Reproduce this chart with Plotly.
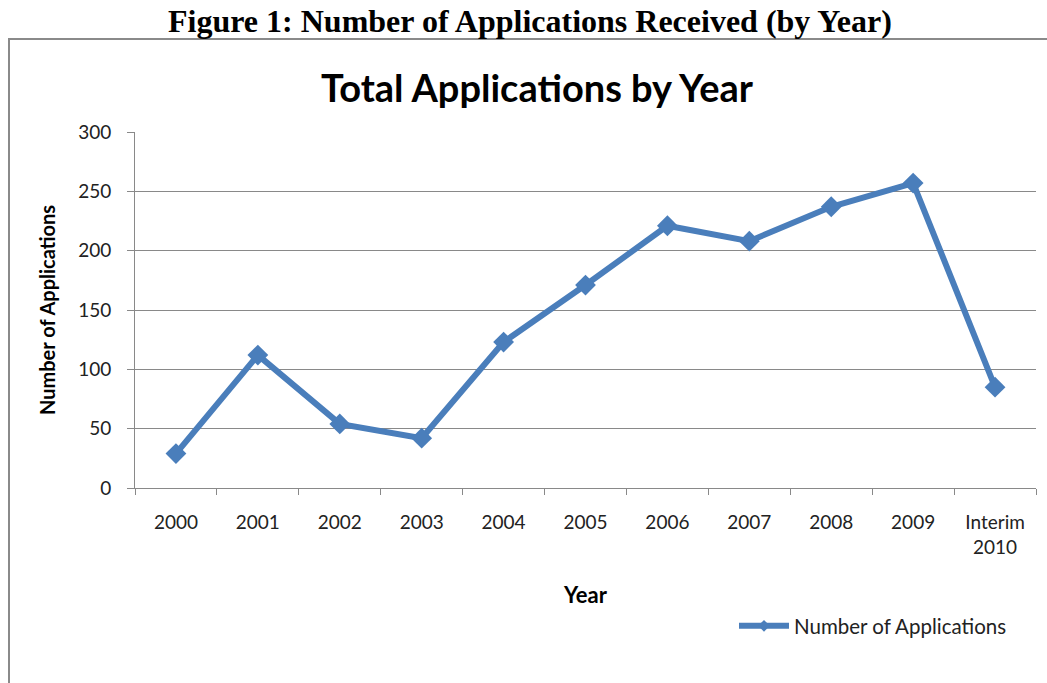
import plotly.graph_objects as go

categories = ["2000", "2001", "2002", "2003", "2004", "2005", "2006", "2007", "2008", "2009", "Interim<br>2010"]
applications = [29, 112, 54, 42, 123, 171, 221, 208, 237, 257, 85]
y_ticks = [0, 50, 100, 150, 200, 250, 300]
series_name = "Number of Applications"

FONT = "Lato"
BLUE = "#4A7EBB"
GRID = "#898989"
TXT = "#222222"

W, H = 1047, 683
L, R, T, B = 135, 11, 132, 195
pw, ph = W - L - R, H - T - B


def px(x):
    return (x - L) / pw


def py(y):
    return (H - B - y) / ph


fig = go.Figure()
fig.add_trace(go.Scatter(
    x=categories, y=applications, mode="lines+markers",
    name=series_name, showlegend=False,
    line=dict(color=BLUE, width=6),
    marker=dict(symbol="diamond", size=16, color=BLUE),
))
# legend-only entry with the smaller legend marker
fig.add_trace(go.Scatter(
    x=[None], y=[None], mode="lines+markers", name=series_name,
    line=dict(color=BLUE, width=6),
    marker=dict(symbol="diamond", size=9, color=BLUE),
))

fig.update_layout(
    width=W, height=H,
    margin=dict(l=L, r=R, t=T, b=B),
    paper_bgcolor="white", plot_bgcolor="white",
    font=dict(family=FONT, size=19, color=TXT),
    showlegend=True,
    legend=dict(x=px(734), y=py(626), xanchor="left", yanchor="middle",
                font=dict(family=FONT, size=20.5, color=TXT),
                bgcolor="rgba(0,0,0,0)", itemwidth=50),
    xaxis=dict(type="category", range=[-0.5, len(categories) - 0.5],
               showgrid=False, showline=True, linecolor=GRID, linewidth=1,
               ticks="outside", ticklen=6, tickcolor=GRID, tickson="boundaries",
               ticklabelstandoff=17,
               tickfont=dict(size=19, family=FONT, color=TXT),
               fixedrange=True),
    yaxis=dict(range=[0, 300], tickvals=y_ticks, showgrid=True, gridcolor=GRID,
               gridwidth=1, showline=True, linecolor=GRID, linewidth=1,
               ticks="outside", ticklen=7, tickcolor=GRID,
               ticklabelstandoff=12,
               tickfont=dict(size=19, family=FONT, color=TXT),
               zeroline=False, fixedrange=True),
    shapes=[dict(type="rect", xref="paper", yref="paper",
                 x0=px(9), x1=px(1060), y0=py(39), y1=py(700),
                 line=dict(color="#8A8A8A", width=2), layer="above")],
    annotations=[
        dict(text="<b>Figure 1: Number of Applications Received (by Year)</b>",
             xref="paper", yref="paper", x=px(530), y=py(21), xanchor="center",
             yanchor="middle", showarrow=False,
             font=dict(family="Liberation Serif", size=32, color="black")),
        dict(text="<b>Total Applications by Year</b>",
             xref="paper", yref="paper", x=px(537), y=py(87), xanchor="center",
             yanchor="middle", showarrow=False,
             font=dict(family=FONT, size=38, color="black")),
        dict(text="<b>Number of Applications</b>",
             xref="paper", yref="paper", x=px(47), y=py(310), xanchor="center",
             yanchor="middle", showarrow=False, textangle=-90,
             font=dict(family=FONT, size=20, color="black")),
        dict(text="<b>Year</b>",
             xref="paper", yref="paper", x=px(585), y=py(594), xanchor="center",
             yanchor="middle", showarrow=False,
             font=dict(family=FONT, size=22, color="black")),
    ],
)

fig.write_html("out.html")
